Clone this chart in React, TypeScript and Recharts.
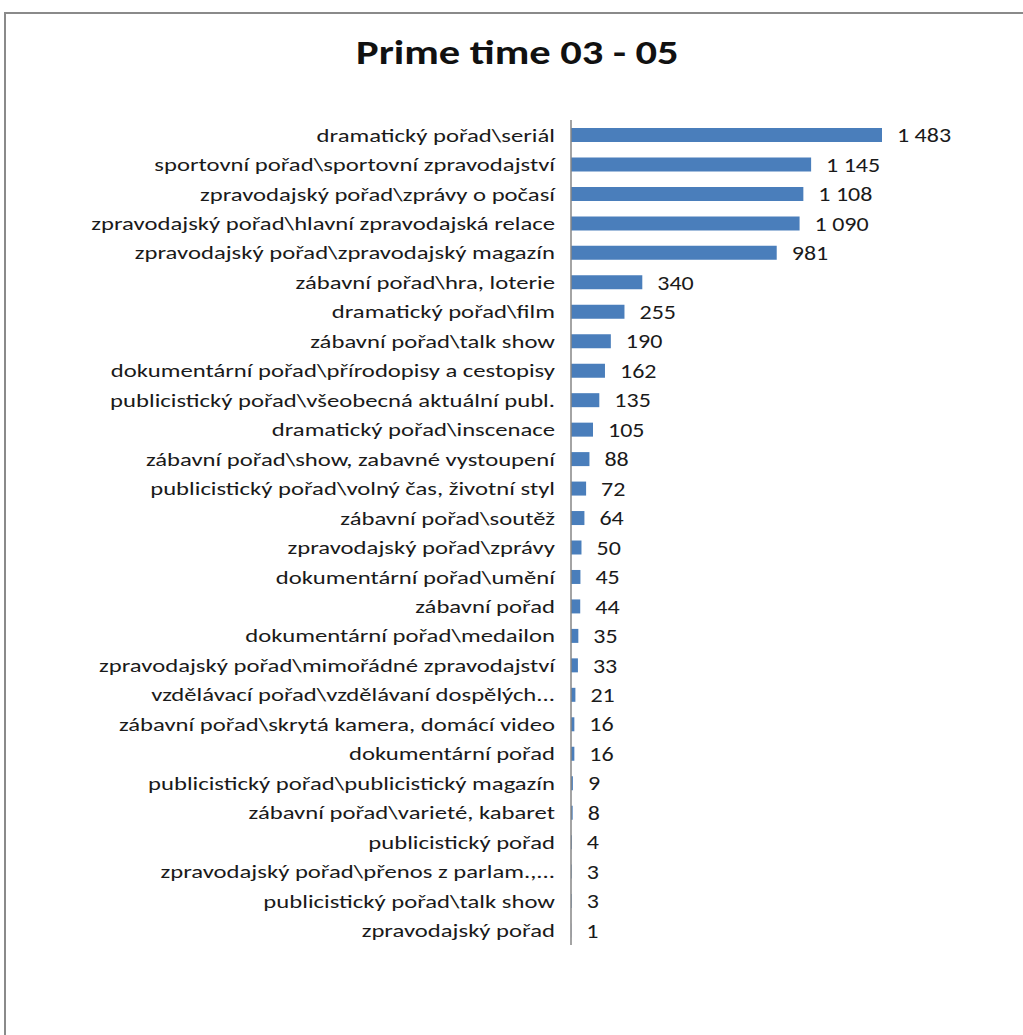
import { BarChart, Bar, XAxis, YAxis, LabelList } from "recharts";

const categories = [
  "dramatický pořad\\seriál",
  "sportovní pořad\\sportovní zpravodajství",
  "zpravodajský pořad\\zprávy o počasí",
  "zpravodajský pořad\\hlavní zpravodajská relace",
  "zpravodajský pořad\\zpravodajský magazín",
  "zábavní pořad\\hra, loterie",
  "dramatický pořad\\film",
  "zábavní pořad\\talk show",
  "dokumentární pořad\\přírodopisy a cestopisy",
  "publicistický pořad\\všeobecná aktuální publ.",
  "dramatický pořad\\inscenace",
  "zábavní pořad\\show, zabavné vystoupení",
  "publicistický pořad\\volný čas, životní styl",
  "zábavní pořad\\soutěž",
  "zpravodajský pořad\\zprávy",
  "dokumentární pořad\\umění",
  "zábavní pořad",
  "dokumentární pořad\\medailon",
  "zpravodajský pořad\\mimořádné zpravodajství",
  "vzdělávací pořad\\vzdělávaní dospělých...",
  "zábavní pořad\\skrytá kamera, domácí video",
  "dokumentární pořad",
  "publicistický pořad\\publicistický magazín",
  "zábavní pořad\\varieté, kabaret",
  "publicistický pořad",
  "zpravodajský pořad\\přenos z parlam.,...",
  "publicistický pořad\\talk show",
  "zpravodajský pořad",
];

const values = [
  1483, 1145, 1108, 1090, 981, 340, 255, 190, 162, 135, 105, 88, 72, 64, 50,
  45, 44, 35, 33, 21, 16, 16, 9, 8, 4, 3, 3, 1,
];

const data = categories.map((name, i) => ({ name, value: values[i] }));

const font = "Carlito, Calibri, Lato, sans-serif";

const fmt = (v: number) => String(v).replace(/\B(?=(\d{3})+(?!\d))/g, " ");

// the source text is drawn a bit wide, so stretch it horizontally
function CategoryTick(props: any) {
  const { x, y, payload } = props;
  return (
    <text
      transform={`translate(${x + 4},${y}) scale(1.3,1)`}
      textAnchor="end"
      dy="0.36em"
      fontSize={19}
      fontFamily={font}
      fill="#1a1a1a"
    >
      {payload.value}
    </text>
  );
}

function ValueLabel(props: any) {
  const { x, y, width, height, value } = props;
  return (
    <text
      transform={`translate(${x + width + 15},${y + height / 2}) scale(1.2,1)`}
      dy="0.36em"
      fontSize={20}
      fontFamily={font}
      fill="#1a1a1a"
    >
      {fmt(value)}
    </text>
  );
}

export default function App() {
  return (
    <div style={{ position: "absolute", left: 0, top: 0, width: 1023, height: 1035, overflow: "hidden", background: "#fff" }}>
      <div
        style={{
          position: "absolute",
          left: 4,
          top: 12,
          width: 1040,
          height: 1040,
          border: "2px solid #8a8a8a",
        }}
      />
      <div
        style={{
          position: "absolute",
          left: 0,
          width: 1035,
          top: 32,
          textAlign: "center",
          fontFamily: font,
          fontWeight: 700,
          fontSize: 34,
          color: "#111",
          transform: "scaleX(1.25)",
          transformOrigin: "518px 0",
        }}
      >
        Prime time 03 - 05
      </div>
      <div style={{ position: "absolute", left: 0, top: 0 }}>
        <BarChart
          width={1023}
          height={1035}
          data={data}
          layout="vertical"
          margin={{ top: 120, right: 141, left: 0, bottom: 90 }}
        >
          <XAxis type="number" hide domain={[0, 1483]} />
          <YAxis
            type="category"
            dataKey="name"
            width={571}
            interval={0}
            tickLine={false}
            axisLine={{ stroke: "#868686", strokeWidth: 1.5 }}
            tickMargin={14}
            tick={<CategoryTick />}
          />
          <Bar dataKey="value" fill="#4a7ebb" barSize={14} isAnimationActive={false}>
            <LabelList dataKey="value" content={<ValueLabel />} />
          </Bar>
        </BarChart>
      </div>
    </div>
  );
}
